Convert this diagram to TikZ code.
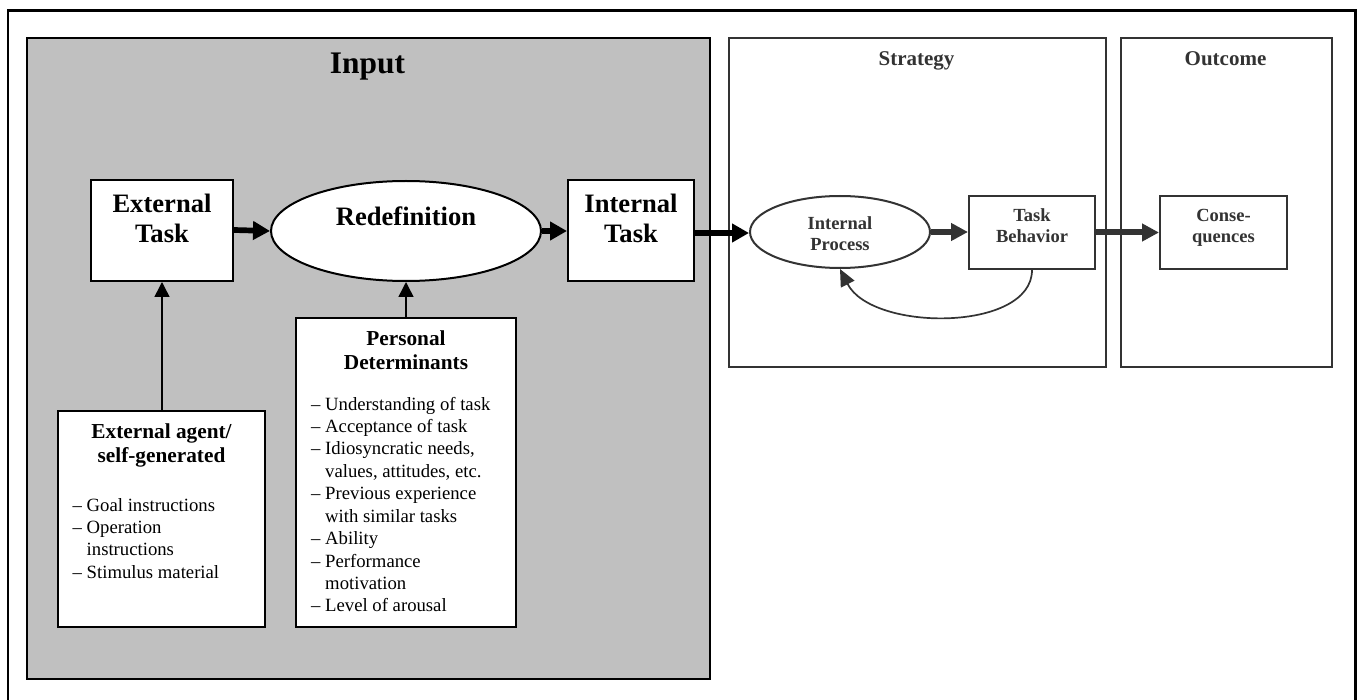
\documentclass[tikz,border=0pt]{standalone}
\usepackage{fontspec}
\setmainfont{Liberation Serif}
\usetikzlibrary{arrows.meta,shapes.geometric}

\definecolor{panelgray}{HTML}{C0C0C0}
\definecolor{inkgray}{HTML}{333333}

% stacked lines of text whose baseline is that of the first line
\newcommand{\stackc}[1]{\begin{tabular}[t]{@{}c@{}}#1\end{tabular}}
\newcommand{\stackl}[1]{\begin{tabular}[t]{@{}l@{}}#1\end{tabular}}
\newcommand{\itm}{–\ }
\newcommand{\cont}{\phantom{–\ }}

\tikzset{
  panel/.style={draw, line width=2pt, anchor=north west, inner sep=0pt},
  whitebox/.style={draw, fill=white, line width=2pt, inner sep=0pt},
  oval/.style={ellipse, draw, fill=white, line width=2pt, inner sep=0pt},
  label/.style={inner sep=0pt, anchor=base},
  listtext/.style={inner sep=0pt, anchor=base west, font=\fontsize{18.7}{22.4}\selectfont},
  bigtitle/.style={label, font=\fontsize{26.6}{30}\selectfont\bfseries},
  smalltitle/.style={label, font=\fontsize{21.3}{24.5}\selectfont\bfseries},
  strattext/.style={label, text=inkgray, font=\fontsize{18.5}{21}\selectfont\bfseries},
  fatarrow/.style={line width=5.7pt, -{Triangle[length=17pt,width=18pt]}},
  grayfatarrow/.style={line width=6pt, draw=inkgray, -{Triangle[length=17pt,width=17pt,fill=inkgray]}},
  thinarrow/.style={line width=1.5pt, -{Triangle[length=15pt,width=15pt]}},
  looparrow/.style={line width=1.7pt, draw=inkgray, -{Triangle[length=17pt,width=15pt,fill=inkgray]}},
}

\begin{document}
\begin{tikzpicture}[x=1pt,y=-1pt]
\useasboundingbox (0,0) rectangle (1364,700);
\clip (0,0) rectangle (1364,700);

% outer frame
\draw[line width=2.7pt] (8,10.7) rectangle (1355.3,704);

% three stage panels
\node[panel, fill=panelgray, minimum width=683.3pt, minimum height=640.7pt] (inputpanel) at (25.7,37) {};
\node[panel, draw=inkgray, minimum width=377pt, minimum height=329pt] (strategypanel) at (728,37) {};
\node[panel, draw=inkgray, minimum width=211pt, minimum height=329pt] (outcomepanel) at (1120,37) {};

\node[label, font=\fontsize{31.4}{34}\selectfont\bfseries] (inputtitle) at (367.5,74) {Input};
\node[smalltitle, text=inkgray, font=\fontsize{21}{24}\selectfont\bfseries] (strategytitle) at (916.5,66) {Strategy};
\node[smalltitle, text=inkgray, font=\fontsize{21}{24}\selectfont\bfseries] (outcometitle) at (1225.5,66) {Outcome};

% input stage
\node[whitebox, minimum width=142pt, minimum height=101pt] (exttask) at (162,230.5) {};
\node[bigtitle] (exttasktext) at (162,213) {\stackc{External\\Task}};

\node[oval, minimum width=270pt, minimum height=100pt] (redef) at (406,231) {};
\node[bigtitle] (redeftext) at (406,226) {Redefinition};

\node[whitebox, minimum width=126pt, minimum height=101pt] (inttask) at (631,230.5) {};
\node[bigtitle] (inttasktext) at (631,213) {\stackc{Internal\\Task}};

\node[whitebox, minimum width=207pt, minimum height=216pt] (extagent) at (161.5,519) {};
\node[smalltitle] (extagenttitle) at (161.5,438) {\stackc{External agent/\\self-generated}};
\node[listtext] (extagentlist) at (72.5,511) {\stackl{%
\itm Goal instructions\\
\itm Operation\\
\cont instructions\\
\itm Stimulus material}};

\node[whitebox, minimum width=220pt, minimum height=309pt] (persdet) at (406,472.5) {};
\node[smalltitle, font=\fontsize{21.3}{24}\selectfont\bfseries] (persdettitle) at (406,345) {\stackc{Personal\\Determinants}};
\node[listtext, font=\fontsize{18.7}{22.44}\selectfont] (persdetlist) at (311,410) {\stackl{%
\itm Understanding of task\\
\itm Acceptance of task\\
\itm Idiosyncratic needs,\\
\cont values, attitudes, etc.\\
\itm Previous experience\\
\cont with similar tasks\\
\itm Ability\\
\itm Performance\\
\cont motivation\\
\itm Level of arousal}};

% strategy and outcome stages
\node[oval, draw=inkgray, minimum width=180pt, minimum height=72pt] (intproc) at (840,232) {};
\node[strattext] (intproctext) at (840,230) {\stackc{Internal\\Process}};

\node[whitebox, draw=inkgray, minimum width=126pt, minimum height=73pt] (taskbeh) at (1032,232.5) {};
\node[strattext] (taskbehtext) at (1032,222) {\stackc{Task\\Behavior}};

\node[whitebox, draw=inkgray, minimum width=127pt, minimum height=73pt] (conseq) at (1223.5,232.5) {};
\node[strattext] (conseqtext) at (1223.5,222) {\stackc{Conse-\\quences}};

% connectors
\draw[fatarrow] (exttask.east |- 0,230) -- (redef.west);
\draw[fatarrow] (redef.east) -- (inttask.west |- 0,231);
\draw[fatarrow] (inttask.east |- 0,233) -- (intproc.west |- 0,233);
\draw[grayfatarrow] (intproc.east) -- (taskbeh.west |- intproc.east);
\draw[grayfatarrow] (taskbeh.east) -- (conseq.west);

\draw[thinarrow] (extagent.north -| 162,0) -- (exttask.south -| 162,0);
\draw[thinarrow] (persdet.north) -- (redef.south);

\draw[looparrow] (taskbeh.south) .. controls (1032,332) and (872,332) .. (intproc.south);
\end{tikzpicture}
\end{document}
